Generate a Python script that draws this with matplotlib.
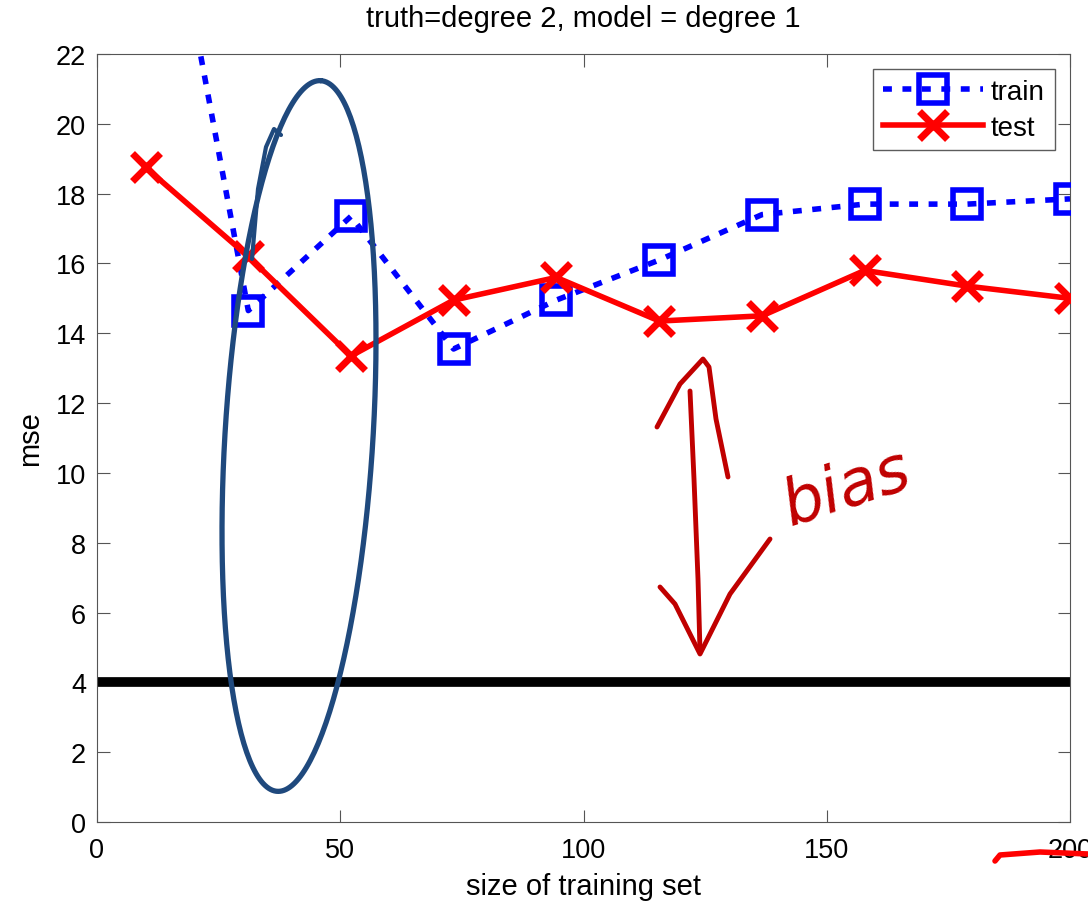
import matplotlib.pyplot as plt
import matplotlib.transforms as mtransforms
import numpy as np

plt.rcParams['font.family'] = ['Liberation Sans', 'DejaVu Sans']

# data
n_train = [10, 31.1, 52.2, 73.3, 94.4, 115.6, 136.7, 157.8, 178.9, 200]
mse_train = [30.4, 14.65, 17.35, 13.55, 14.95, 16.1, 17.4, 17.7, 17.7, 17.85]
mse_test = [18.75, 16.2, 13.35, 14.95, 15.6, 14.35, 14.5, 15.8, 15.35, 15.0]
noise_level = 4

W, H = 1088, 903
fig = plt.figure(figsize=(W / 100, H / 100), dpi=100)
ax = fig.add_axes([97 / W, 1 - 823 / H, (1070 - 97) / W, (823 - 55) / H])

ax.axhline(noise_level, color="black", lw=7, zorder=2)
ax.plot(n_train, mse_train, ls=(0, (1.6, 1.9)), color="blue", lw=4, marker="s",
        ms=20, mfc="none", mec="blue", mew=4, label="train", zorder=3,
        dash_capstyle="butt")
ax.plot(n_train, mse_test, ls="-", color="red", lw=4, marker="x",
        ms=20, mew=5, label="test", zorder=3)

ax.set_xlim(0, 200)
ax.set_ylim(0, 22)
ax.set_xticks(np.arange(0, 201, 50))
ax.set_yticks(np.arange(0, 23, 2))
ax.tick_params(direction="in", length=9, top=True, right=True,
               labelsize=19.5, color="#555555", pad=8)
ax.tick_params(axis="x", pad=11)
for s in ax.spines.values():
    s.set_color("#555555")
ax.set_xlabel("size of training set", fontsize=21, labelpad=6)
ax.set_ylabel("mse", fontsize=21, labelpad=8)
ax.set_title("truth=degree 2, model = degree 1", fontsize=21, pad=20)
leg = ax.legend(loc="upper right", fontsize=20, frameon=True, fancybox=False,
                borderaxespad=0.55, handlelength=3.6, borderpad=0.35,
                labelspacing=0.35, handletextpad=0.3)
leg.get_frame().set_edgecolor("#333333")
leg.get_frame().set_linewidth(1)

# handwritten annotations (pixel coordinates, y from top)
ident = mtransforms.IdentityTransform()

def stroke(xs, ys, **kw):
    ys = [H - y for y in ys]
    fig.add_artist(plt.Line2D(xs, ys, transform=ident, solid_capstyle="round",
                              solid_joinstyle="round", **kw))

t = np.linspace(0.5 * np.pi, 2.5 * np.pi, 240)
ang = np.deg2rad(3.5)
ex, ey = 74 * np.cos(t), 356 * np.sin(t)
stroke(299 + ex * np.cos(ang) + ey * np.sin(ang),
       437 - (ey * np.cos(ang) - ex * np.sin(ang)), color="#1f497d", lw=3.8)
stroke([252, 258, 266, 274, 281], [260, 190, 148, 130, 136], color="#1f497d", lw=3)

red = "#c00000"
stroke([657, 680, 703, 709, 716, 728], [428, 385, 360, 368, 420, 478], color=red, lw=3.5)
stroke([690, 694, 698, 700], [392, 480, 580, 652], color=red, lw=3.5)
stroke([660, 675, 700, 730, 770], [588, 605, 655, 595, 540], color=red, lw=3.5)
fig.text(775 / W, 1 - 525 / H, "bias", color=red, fontsize=46, style="italic",
         rotation=18, family="DejaVu Sans")
stroke([995, 1000, 1040, 1088], [862, 856, 853, 855], color="red", lw=4)

fig.savefig("out.png", dpi=100)
